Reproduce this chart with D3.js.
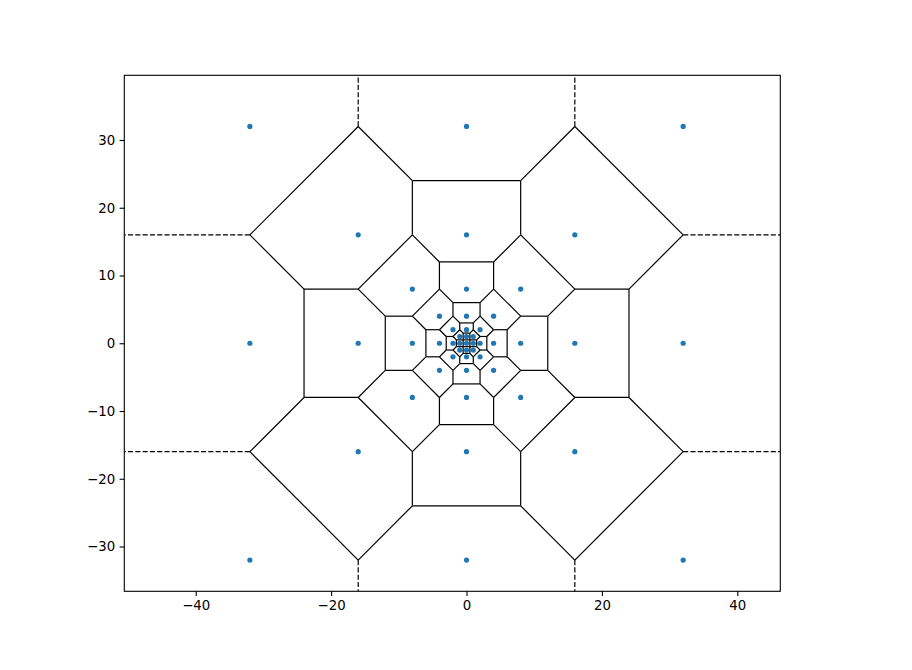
<!DOCTYPE html>
<html><head><meta charset="utf-8">
<script src="https://cdn.jsdelivr.net/npm/d3@7"></script>
<style>body{margin:0;background:#fff}svg{display:block}text{font-family:"DejaVu Sans",sans-serif}</style>
</head><body>
<svg id="c" width="912" height="670"></svg>
<script>
// ---- data ----
const scales = [1, 2, 4, 8, 16, 32];
const offsets = [[-1,1],[0,1],[1,1],[-1,0],[1,0],[-1,-1],[0,-1],[1,-1]];
const origin = [[0, 0]];
const xTicks = [-40, -20, 0, 20, 40];
const yTicks = [-30, -20, -10, 0, 10, 20, 30];
const xDomain = [-50.55, 46.35];
const yDomain = [-36.61, 39.55];

const points = origin.concat(...scales.map(s => offsets.map(([a,b]) => [a*s, b*s])));

// ---- layout ----
const L = 124.3, R = 780.3, T = 75.3, B = 591.3;
const svg = d3.select("#c");
const x = d3.scaleLinear().domain(xDomain).range([L, R]);
const y = d3.scaleLinear().domain(yDomain).range([B, T]);

svg.append("defs").append("clipPath").attr("id","clip")
  .append("rect").attr("x",L).attr("y",T).attr("width",R-L).attr("height",B-T);

// ---- voronoi (scipy-style: finite ridges solid, infinite dashed) ----
const del = d3.Delaunay.from(points);
const {triangles, halfedges} = del;
function cc(t){
  const [ax,ay] = points[triangles[3*t]], [bx,by] = points[triangles[3*t+1]], [cx,cy] = points[triangles[3*t+2]];
  const d = 2*(ax*(by-cy)+bx*(cy-ay)+cx*(ay-by));
  if (Math.abs(d) < 1e-9) return null;
  const a2=ax*ax+ay*ay, b2=bx*bx+by*by, c2=cx*cx+cy*cy;
  return [(a2*(by-cy)+b2*(cy-ay)+c2*(ay-by))/d, (a2*(cx-bx)+b2*(ax-cx)+c2*(bx-ax))/d];
}
const nextHE = e => (e % 3 === 2) ? e - 2 : e + 1;
const center = [d3.mean(points, p=>p[0]), d3.mean(points, p=>p[1])];
const ptp = Math.max(d3.max(points,p=>p[0])-d3.min(points,p=>p[0]), d3.max(points,p=>p[1])-d3.min(points,p=>p[1]));
const finite = [], infinite = [];
for (let e = 0; e < halfedges.length; e++) {
  const o = halfedges[e];
  const v = cc(Math.floor(e/3));
  if (o >= 0) {
    if (o < e) continue;
    const w = cc(Math.floor(o/3));
    if (!v || !w) continue;
    if (Math.hypot(v[0]-w[0], v[1]-w[1]) < 1e-9) continue;
    finite.push([v, w]);
  } else {
    if (!v) continue;
    const p0 = points[triangles[e]], p1 = points[triangles[nextHE(e)]];
    let tx = p1[0]-p0[0], ty = p1[1]-p0[1];
    const n = Math.hypot(tx,ty); tx/=n; ty/=n;
    let nx = -ty, ny = tx;
    const mx = (p0[0]+p1[0])/2, my = (p0[1]+p1[1])/2;
    const sgn = Math.sign((mx-center[0])*nx + (my-center[1])*ny);
    nx *= sgn; ny *= sgn;
    infinite.push([v, [v[0]+nx*ptp, v[1]+ny*ptp]]);
  }
}

const g = svg.append("g").attr("clip-path","url(#clip)");
g.selectAll("circle.pt").data(points).join("circle").attr("class","pt")
  .attr("cx", d=>x(d[0])).attr("cy", d=>y(d[1])).attr("r", 2.6).attr("fill","#1f77b4");
g.selectAll("line.fin").data(finite).join("line").attr("class","fin")
  .attr("x1",d=>x(d[0][0])).attr("y1",d=>y(d[0][1])).attr("x2",d=>x(d[1][0])).attr("y2",d=>y(d[1][1]))
  .attr("stroke","#000").attr("stroke-width",1.2);
g.selectAll("line.inf").data(infinite).join("line").attr("class","inf")
  .attr("x1",d=>x(d[0][0])).attr("y1",d=>y(d[0][1])).attr("x2",d=>x(d[1][0])).attr("y2",d=>y(d[1][1]))
  .attr("stroke","#000").attr("stroke-width",1.2).attr("stroke-dasharray","5.1,2.2");

// ---- axes ----
const fmt = d => d < 0 ? "\u2212" + Math.abs(d) : String(d);
const xa = svg.append("g").attr("transform",`translate(0,${B})`)
  .call(d3.axisBottom(x).tickValues(xTicks).tickFormat(fmt).tickSize(4.7).tickPadding(4.5).tickSizeOuter(0));
const ya = svg.append("g").attr("transform",`translate(${L},0)`)
  .call(d3.axisLeft(y).tickValues(yTicks).tickFormat(fmt).tickSize(4.7).tickPadding(4.5).tickSizeOuter(0));
[xa, ya].forEach(a => {
  a.select(".domain").remove();
  a.selectAll("line").attr("stroke","#000").attr("stroke-width",1.1);
  a.selectAll("text").attr("font-family","DejaVu Sans").attr("font-size","13.3px").attr("fill","#000");
});
svg.append("rect").attr("x",L).attr("y",T).attr("width",R-L).attr("height",B-T)
  .attr("fill","none").attr("stroke","#000").attr("stroke-width",1.1);
</script>
</body></html>
